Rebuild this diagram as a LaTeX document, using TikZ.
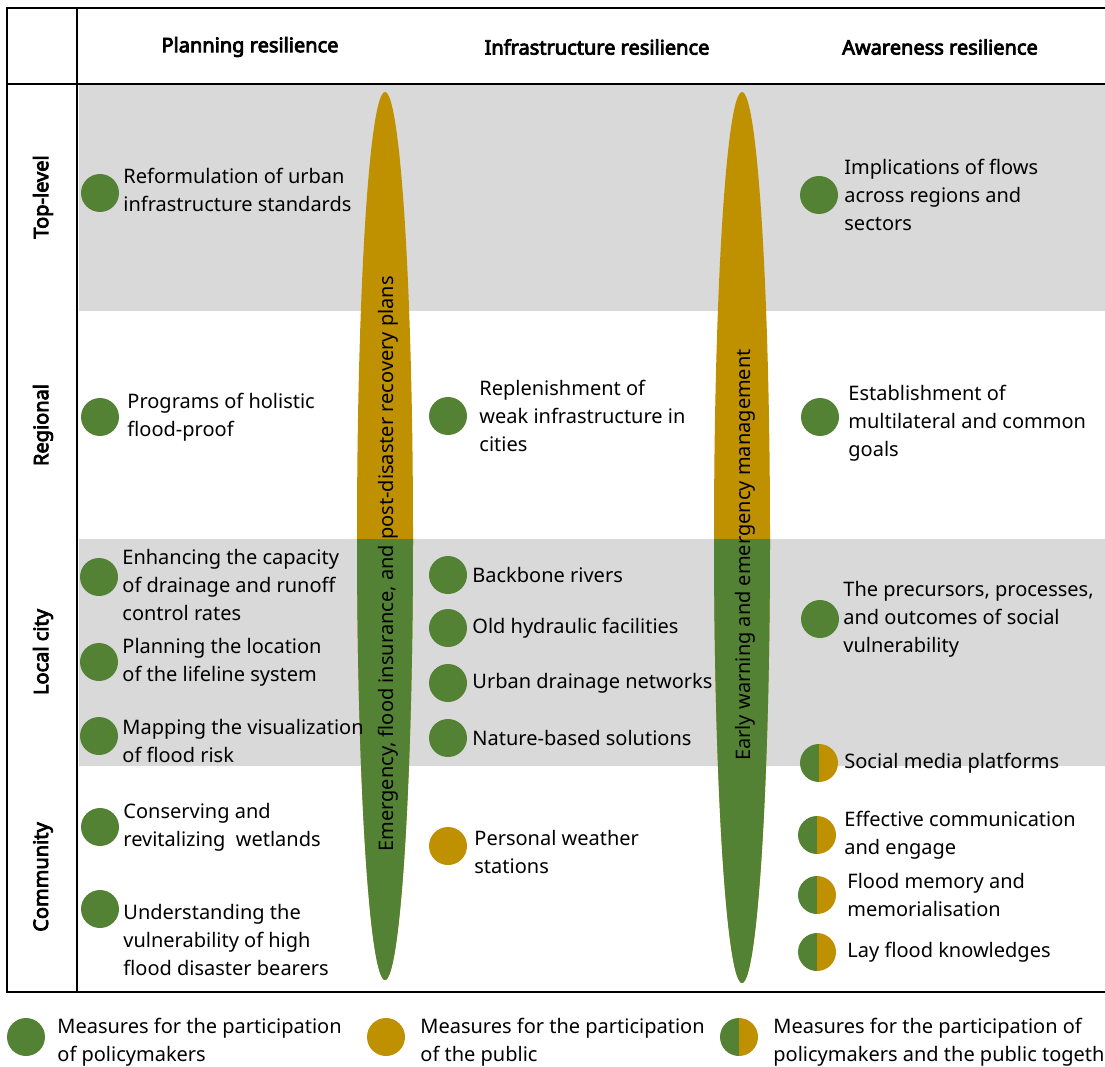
\documentclass[tikz,border=0pt]{standalone}
\usepackage{fontspec}
\setmainfont{Noto Sans}[BoldFont={Noto Sans},BoldFeatures={FakeBold=4}]
\usetikzlibrary{positioning}
\definecolor{polgreen}{RGB}{84,130,53}
\definecolor{pubgold}{RGB}{191,144,0}
\definecolor{bandgrey}{RGB}{217,217,217}

\begin{document}
\begin{tikzpicture}[x=1pt,y=-1pt,
  every node/.style={font=\fontsize{20}{28}\selectfont},
  dot/.style={circle,fill=polgreen,minimum size=38pt,inner sep=0pt},
  pubdot/.style={circle,fill=pubgold,minimum size=38pt,inner sep=0pt},
  halfdot/.style={circle,minimum size=38pt,inner sep=0pt,path picture={
    \fill[polgreen] (path picture bounding box.south west) rectangle (path picture bounding box.north);
    \fill[pubgold] (path picture bounding box.south) rectangle (path picture bounding box.north east);}},
  item/.style={align=left,inner sep=0pt},
  head/.style={font=\fontsize{20}{28}\selectfont\bfseries},
  rowlab/.style={font=\fontsize{20}{28}\selectfont\bfseries,rotate=90},
  frame/.style={line width=2pt}]
  \useasboundingbox (0,0) rectangle (1105,1067);

  % grey bands
  \fill[bandgrey] (79,85) rectangle (1105,311);
  \fill[bandgrey] (79,539) rectangle (1105,766);

  % the two long ellipses
  \fill[pubgold] (385,536) ellipse [x radius=28pt,y radius=444pt];
  \fill[pubgold] (742,537.5) ellipse [x radius=28pt,y radius=445.5pt];
  \begin{scope}
    \clip (0,539) rectangle (1105,1000);
    \fill[polgreen] (385,536) ellipse [x radius=28pt,y radius=444pt];
    \fill[polgreen] (742,537.5) ellipse [x radius=28pt,y radius=445.5pt];
  \end{scope}
  \node[rotate=90] (plans) at (388,564) {Emergency, flood insurance, and post-disaster recovery plans};
  \node[rotate=90] (warning) at (745,555) {Early warning and emergency management};

  % frame
  \draw[frame] (1105,8) -- (7,8) -- (7,992) -- (1105,992);
  \draw[frame] (7,84) -- (1105,84);
  \draw[frame] (77,8) -- (77,992);

  \node[head] (hplan) at (250,47) {Planning resilience};
  \node[head] (hinfra) at (597,47) {Infrastructure resilience};
  \node[head] (haware) at (940,47) {Awareness resilience};

  \node[rowlab] (rtop) at (43,197) {Top-level};
  \node[rowlab] (rreg) at (43,425) {Regional};
  \node[rowlab] (rloc) at (43,652) {Local city};
  \node[rowlab] (rcom) at (43,877) {Community};

  % planning resilience
  \node[dot] (p1) at (100,193) {};
  \node[item,right=4pt of p1,yshift=3pt] (tp1) {Reformulation of urban\\infrastructure standards};
  \node[dot] (p2) at (100,417) {};
  \node[item,right=8pt of p2] (tp2) {Programs of holistic\\flood-proof};
  \node[dot] (p3) at (99,577) {};
  \node[item,right=4pt of p3,yshift=-8pt] (tp3) {Enhancing the capacity\\of drainage and runoff\\control rates};
  \node[dot] (p4) at (99,662) {};
  \node[item,right=4pt of p4] (tp4) {Planning the location\\of the lifeline system};
  \node[dot] (p5) at (99,736) {};
  \node[item,right=4pt of p5,yshift=-5pt] (tp5) {Mapping the visualization\\of flood risk};
  \node[dot] (p6) at (100,827) {};
  \node[item,right=4pt of p6] (tp6) {Conserving and\\revitalizing\ \ wetlands};
  \node[dot] (p7) at (100,909) {};
  \node[item,right=4pt of p7,yshift=-31pt] (tp7) {Understanding the\\vulnerability of high\\flood disaster bearers};

  % infrastructure resilience
  \node[dot] (i1) at (448,416) {};
  \node[item,right=12pt of i1] (ti1) {Replenishment of\\weak infrastructure in\\cities};
  \node[dot] (i2) at (448,575) {};
  \node[item,right=5pt of i2] (ti2) {Backbone rivers};
  \node[dot] (i3) at (448,628) {};
  \node[item,right=5pt of i3] (ti3) {Old hydraulic facilities};
  \node[dot] (i4) at (448,683) {};
  \node[item,right=5pt of i4] (ti4) {Urban drainage networks};
  \node[dot] (i5) at (448,738) {};
  \node[item,right=5pt of i5] (ti5) {Nature-based solutions};
  \node[pubdot] (i6) at (448,846) {};
  \node[item,right=7pt of i6,yshift=-6pt] (ti6) {Personal weather\\stations};

  % awareness resilience
  \node[dot] (a1) at (819,195) {};
  \node[item,right=6pt of a1] (ta1) {Implications of flows\\across regions and\\sectors};
  \node[dot] (a2) at (820,417) {};
  \node[item,right=9pt of a2,yshift=-6pt] (ta2) {Establishment of\\multilateral and common\\goals};
  \node[dot] (a3) at (820,619) {};
  \node[item,right=4pt of a3] (ta3) {The precursors, processes,\\and outcomes of social\\vulnerability};
  \node[halfdot] (a4) at (819,763) {};
  \node[item,right=6pt of a4] (ta4) {Social media platforms};
  \node[halfdot] (a5) at (817,835) {};
  \node[item,right=8pt of a5] (ta5) {Effective communication\\and engage};
  \node[halfdot] (a6) at (817,895) {};
  \node[item,right=11pt of a6] (ta6) {Flood memory and\\memorialisation};
  \node[halfdot] (a7) at (817,952) {};
  \node[item,right=11pt of a7] (ta7) {Lay flood knowledges};

  % legend
  \node[dot] (l1) at (26,1037) {};
  \node[item,right=12pt of l1,yshift=-5pt] (tl1) {Measures for the participation\\of policymakers};
  \node[pubdot] (l2) at (386,1037) {};
  \node[item,right=15pt of l2,yshift=-5pt] (tl2) {Measures for the participation\\of the public};
  \node[halfdot] (l3) at (739,1037) {};
  \node[item,right=15pt of l3,yshift=-5pt] (tl3) {Measures for the participation of\\policymakers and the public together};
\end{tikzpicture}
\end{document}
